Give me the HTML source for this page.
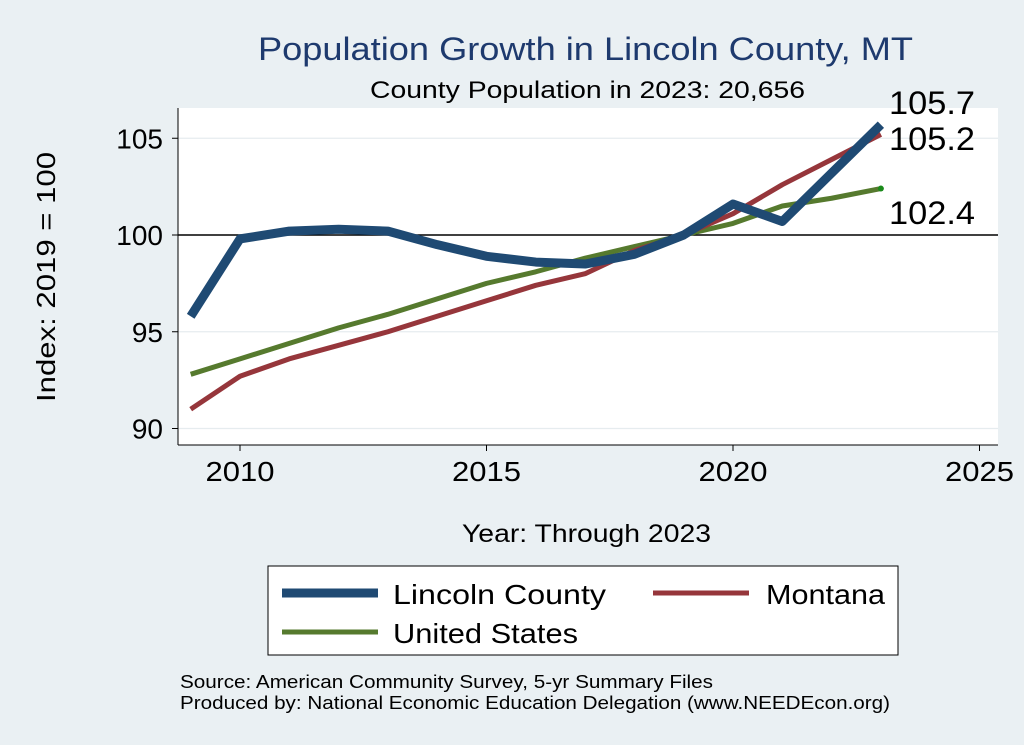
<!DOCTYPE html>
<html><head><meta charset="utf-8"><style>
body{margin:0;background:#eaf0f3;}
svg{display:block;font-family:"Liberation Sans",sans-serif;}
</style></head><body>
<svg id="c" width="1024" height="745">
<rect width="1024" height="745" fill="#eaf0f3"/>
<rect x="178" y="108" width="820" height="337" fill="#fff"/>
<text x="258" y="60" font-size="32" fill="#1e3a6e" textLength="655" lengthAdjust="spacingAndGlyphs">Population Growth in Lincoln County, MT</text>
<text x="370" y="98" font-size="24" fill="#000" textLength="435" lengthAdjust="spacingAndGlyphs">County Population in 2023: 20,656</text>
<text transform="translate(55,277) rotate(-90)" font-size="26" text-anchor="middle" textLength="250" lengthAdjust="spacingAndGlyphs">Index: 2019 = 100</text>
<text x="462" y="542" font-size="25" textLength="249" lengthAdjust="spacingAndGlyphs">Year: Through 2023</text>
<g id="grid"></g><g id="axes"></g><g id="series"></g>
<rect x="268" y="566" width="630" height="89" fill="#fff" stroke="#000" stroke-width="1"/>
<g><line x1="282" y1="593" x2="378" y2="593" stroke="#1f4a73" stroke-width="9"/><text x="393" y="604" font-size="28" textLength="213" lengthAdjust="spacingAndGlyphs">Lincoln  County</text></g>
<g><line x1="653" y1="593" x2="749" y2="593" stroke="#96363b" stroke-width="5"/><text x="766" y="604" font-size="28" textLength="119" lengthAdjust="spacingAndGlyphs">Montana</text></g>
<g><line x1="282" y1="632" x2="378" y2="632" stroke="#567a2e" stroke-width="5"/><text x="393" y="643" font-size="28" textLength="185" lengthAdjust="spacingAndGlyphs">United States</text></g>
<text x="180" y="688" font-size="18" textLength="533" lengthAdjust="spacingAndGlyphs">Source: American Community Survey, 5-yr Summary Files</text>
<text x="180" y="709" font-size="18" textLength="710" lengthAdjust="spacingAndGlyphs">Produced by: National Economic Education Delegation (www.NEEDEcon.org)</text>
</svg>
<script>
const years=[2009,2010,2011,2012,2013,2014,2015,2016,2017,2018,2019,2020,2021,2022,2023];
const lincoln=[95.8,99.8,100.2,100.3,100.2,99.5,98.9,98.6,98.5,99.0,100,101.6,100.7,103.2,105.7];
const montana=[91.0,92.7,93.6,94.3,95.0,95.8,96.6,97.4,98.0,99.2,100,101.1,102.6,103.9,105.2];
const us=[92.8,93.6,94.4,95.2,95.9,96.7,97.5,98.1,98.8,99.4,100,100.6,101.5,101.9,102.4];
const xTicks=[2010,2015,2020,2025];
const yTicks=[90,95,100,105];
const NS="http://www.w3.org/2000/svg";
const X=v=>240+(v-2010)*49.3;
const Y=v=>235-(v-100)*19.35;
function mk(t,a,p){const e=document.createElementNS(NS,t);for(const k in a)e.setAttribute(k,a[k]);p.appendChild(e);return e;}
const grid=document.getElementById('grid'),axes=document.getElementById('axes'),ser=document.getElementById('series');
yTicks.forEach(v=>{
 const g=mk('line',{x1:178,x2:998,y1:Y(v),y2:Y(v),stroke:v===100?'#000':'#e6ecef','stroke-width':v===100?1.5:1.2},grid);
 
 
 mk('line',{x1:172,x2:178,y1:Y(v),y2:Y(v),stroke:'#000'},axes);
 const t=mk('text',{x:163,y:Y(v)+10,'font-size':28,'text-anchor':'end'},axes);t.textContent=v;
 
 
});
xTicks.forEach(v=>{
 mk('line',{x1:X(v),x2:X(v),y1:445,y2:451,stroke:'#000'},axes);
 const t=mk('text',{x:X(v),y:481,'font-size':28,'text-anchor':'middle',textLength:69,lengthAdjust:'spacingAndGlyphs'},axes);t.textContent=v;
 
 
});
mk('line',{x1:178,x2:178,y1:108,y2:445,stroke:'#000'},axes);
mk('line',{x1:178,x2:998,y1:445,y2:445,stroke:'#000'},axes);
function line(d,c,w,name){
 const p=mk('polyline',{points:years.map((y,i)=>X(y)+','+Y(d[i])).join(' '),fill:'none',stroke:c,'stroke-width':w,'stroke-linejoin':'round'},ser);
 
 
}
line(us,'#567a2e',5,'us-line');
line(montana,'#96363b',5,'montana-line');
line(lincoln,'#1f4a73',9,'lincoln-line');
mk('circle',{cx:X(2023),cy:Y(us[14]),r:3,fill:'#1a8a1a'},ser);
const lbl=[[lincoln[14],114],[montana[14],150],[us[14],224]];
lbl.forEach(([v,y])=>{const t=mk('text',{x:889,y:y,'font-size':32,textLength:86,lengthAdjust:'spacingAndGlyphs'},ser);t.textContent=v.toFixed(1);
 
 });
</script>
</body></html>
